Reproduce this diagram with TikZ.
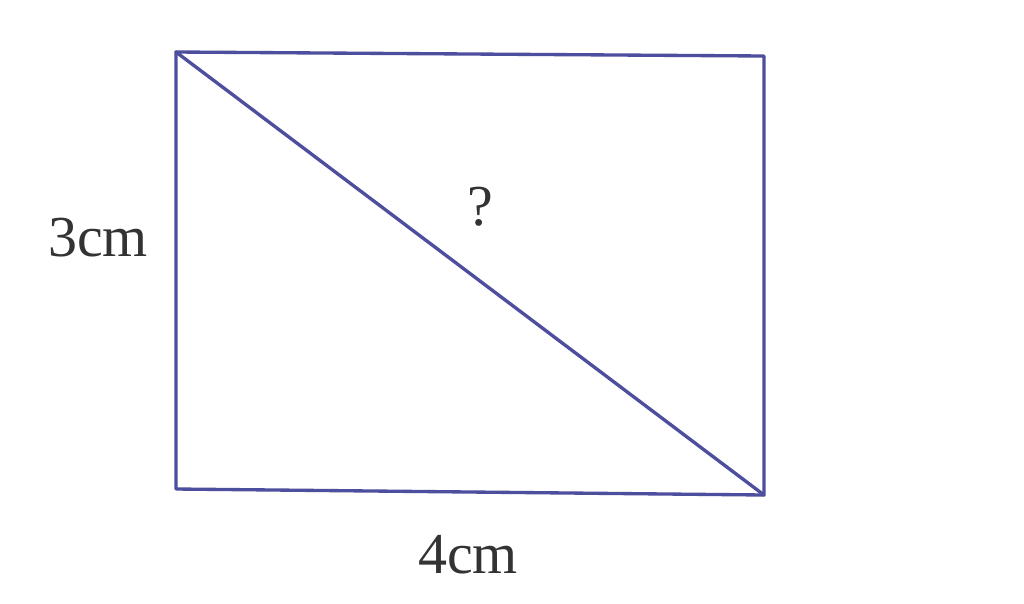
\documentclass[tikz,border=0pt]{standalone}
\usepackage{fontspec}
\setmainfont{Liberation Serif}
\begin{document}
\begin{tikzpicture}[x=0.02cm,y=-0.02cm,
  edge/.style={draw=lineblue,line width=1.9pt,line join=round,line cap=round},
  lbl/.style={text=textgray,font=\fontsize{33}{36}\selectfont,inner sep=0pt}]
\definecolor{lineblue}{HTML}{4E4E9E}
\definecolor{textgray}{HTML}{333333}
\useasboundingbox[fill=white] (0,0) rectangle (1024,603);
\coordinate (tl) at (176,52);
\coordinate (tr) at (764,56);
\coordinate (br) at (764,495);
\coordinate (bl) at (176,489);
\draw[edge] (tl) -- (tr) -- (br) -- (bl) -- cycle;
\draw[edge] (tl) -- (br);
\node[lbl] (a) at (98,238) {3cm};
\node[lbl] (b) at (468,555) {4cm};
\node[lbl] (q) at (480,207) {?};
\end{tikzpicture}
\end{document}
